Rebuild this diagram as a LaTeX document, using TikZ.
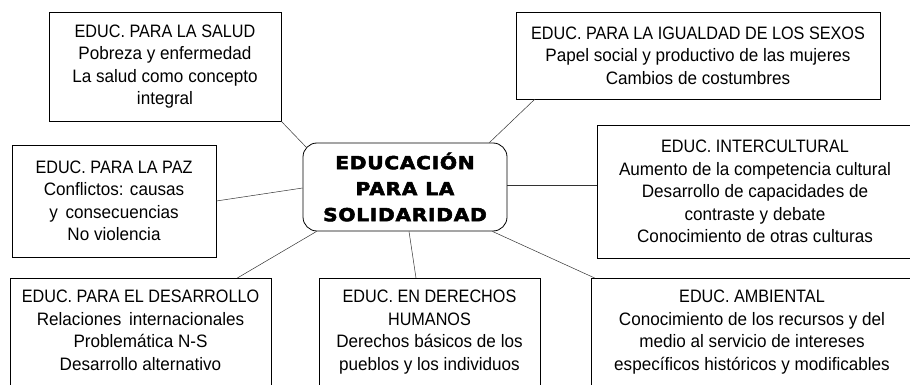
\documentclass[tikz,border=0pt]{standalone}
\usepackage{fontspec}
\setmainfont{Liberation Sans}[FakeStretch=0.95]
\newfontfamily\capsfont{Liberation Sans}[FakeStretch=0.9]
\newfontfamily\titlefont{DejaVu Sans}[FakeStretch=1.12, LetterSpace=4, FakeBold=3]
\tikzset{
  tema/.style={draw, line width=0.7pt, align=center, inner sep=0pt, font=\fontsize{18}{22.5}\selectfont},
  cortada/.style={tema, anchor=north, text depth=30pt, inner ysep=12pt},
  centro/.style={draw, line width=0.8pt, rounded corners=14pt, align=center, inner sep=0pt, font=\titlefont\bfseries\fontsize{18}{26}\selectfont},
  enlace/.style={line width=0.5pt, draw=black!80}
}
\begin{document}
\begin{tikzpicture}[x=1pt,y=-1pt]
\useasboundingbox (0,0) rectangle (910,385);
\clip (0,0) rectangle (910,385);
\node[centro, minimum width=204pt, minimum height=88pt] (sol) at (405,187) {EDUCACIÓN\\PARA LA\\SOLIDARIDAD};
\node[tema, minimum width=232pt, minimum height=109pt] (salud) at (165,66.5) {{\capsfont EDUC. PARA LA SALUD}\\Pobreza y enfermedad\\La salud como concepto\\integral};
\node[tema, minimum width=364pt, minimum height=87pt] (igualdad) at (698,55.5) {{\capsfont EDUC. PARA LA IGUALDAD DE LOS SEXOS}\\Papel social y productivo de las mujeres\\Cambios de costumbres};
\node[tema, minimum width=204pt, minimum height=112pt] (paz) at (114,201) {{\capsfont EDUC. PARA LA PAZ}\\Conflictos: causas\\y\, consecuencias\\No violencia};
\node[tema, minimum width=316pt, minimum height=133pt] (intercultural) at (755,191.5) {{\capsfont EDUC. INTERCULTURAL}\\Aumento de la competencia cultural\\Desarrollo de capacidades de\\contraste y debate\\Conocimiento de otras culturas};
\node[cortada, minimum width=261pt] (desarrollo) at (140.5,278) {{\capsfont EDUC. PARA EL DESARROLLO}\\Relaciones\, internacionales\\Problemática N-S\\Desarrollo alternativo};
\node[cortada, minimum width=221pt] (derechos) at (429.5,278) {{\capsfont EDUC. EN DERECHOS}\\{\capsfont HUMANOS}\\Derechos básicos de los\\pueblos y los individuos};
\node[cortada, minimum width=322pt] (ambiental) at (752,278) {{\capsfont EDUC. AMBIENTAL}\\Conocimiento de los recursos y del\\medio al servicio de intereses\\específicos históricos y modificables};
\draw[enlace] (salud.south east) -- ([shift={(4,5)}]sol.north west);
\draw[enlace] ([xshift=19pt]igualdad.south west) -- ([xshift=-18pt]sol.north east);
\draw[enlace] (paz.east) -- ([yshift=-1pt]sol.west);
\draw[enlace] ([yshift=2pt]sol.east) -- ([yshift=2pt]sol.east -| intercultural.west);
\draw[enlace] ([xshift=14pt]sol.south west) -- ([xshift=-34pt]desarrollo.north east);
\draw[enlace] ([xshift=4pt]sol.south) -- ([xshift=-13.5pt]derechos.north);
\draw[enlace] ([xshift=-15pt]sol.south east) -- ([xshift=4pt]ambiental.north west);
\end{tikzpicture}
\end{document}
